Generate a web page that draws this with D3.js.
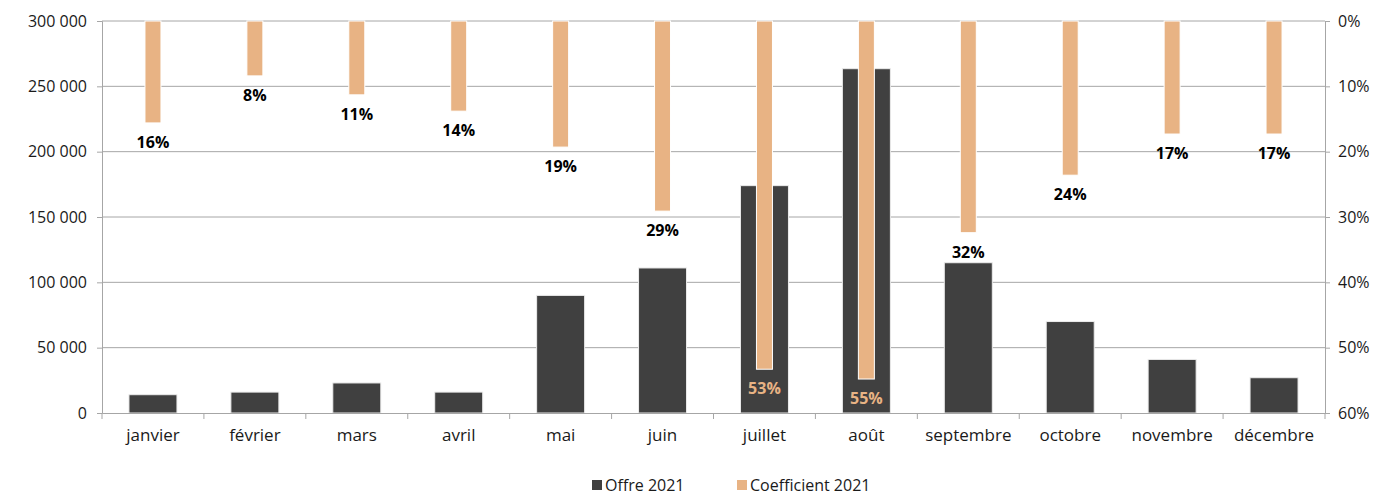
<!DOCTYPE html>
<html>
<head>
<meta charset="utf-8">
<script src="https://cdn.jsdelivr.net/npm/d3@7"></script>
<style>
    body { margin: 0; background: #fff; }
    svg text { font-family: "Open Sans", "DejaVu Sans", sans-serif; }
</style>
</head>
<body>
<div id="chart"></div>
<script>
// chart values
var months = ["janvier", "février", "mars", "avril", "mai", "juin", "juillet", "août", "septembre", "octobre", "novembre", "décembre"];
var offre2021 = [14000, 16000, 23000, 16000, 90000, 111000, 174000, 263500, 115000, 70000, 41000, 27000];
var coef2021 = [0.156, 0.084, 0.113, 0.138, 0.193, 0.291, 0.533, 0.548, 0.324, 0.236, 0.173, 0.173];
var leftTicks = [0, 50000, 100000, 150000, 200000, 250000, 300000];
var rightTicks = [0, 0.1, 0.2, 0.3, 0.4, 0.5, 0.6];

var margin = { top: 21, right: 57, bottom: 82, left: 102 };
var width = 1382 - margin.left - margin.right;
var height = 495 - margin.top - margin.bottom;

var dark = "#404040";
var orange = "#e8b384";
var gridColor = "#a6a6a6";

var svg = d3.select("#chart").append("svg")
    .attr("width", 1382)
    .attr("height", 495)
    .append("g")
    .attr("transform", "translate(" + margin.left + "," + margin.top + ")");

var x = d3.scaleBand().domain(months).range([0, width]);
var step = x.step();
var xDark = d3.scaleBand().domain(months).range([0, width])
    .paddingInner(1 - 48 / step).paddingOuter((1 - 48 / step) / 2);
var xOrange = d3.scaleBand().domain(months).range([0, width])
    .paddingInner(1 - 16 / step).paddingOuter((1 - 16 / step) / 2);

var y = d3.scaleLinear().domain([0, 300000]).range([height, 0]);
var y2 = d3.scaleLinear().domain([0, 0.6]).range([0, height]);

// gridlines
svg.selectAll(".grid")
    .data(leftTicks.filter(function (d) { return d > 0; }))
    .enter().append("line")
    .attr("x1", 0).attr("x2", width)
    .attr("y1", function (d) { return y(d); })
    .attr("y2", function (d) { return y(d); })
    .attr("stroke", gridColor)
    .attr("stroke-width", 1);

// dark bars
svg.selectAll(".offre")
    .data(offre2021)
    .enter().append("rect")
    .attr("x", function (d, i) { return xDark(months[i]); })
    .attr("y", function (d) { return y(d); })
    .attr("width", xDark.bandwidth())
    .attr("height", function (d) { return height - y(d); })
    .attr("fill", dark)
    .attr("stroke", "#ececec")
    .attr("stroke-width", 1);

// orange bars hanging from top
svg.selectAll(".coef")
    .data(coef2021)
    .enter().append("rect")
    .attr("x", function (d, i) { return xOrange(months[i]); })
    .attr("y", 0)
    .attr("width", xOrange.bandwidth())
    .attr("height", function (d) { return y2(d); })
    .attr("fill", orange)
    .attr("stroke", "#ffffff")
    .attr("stroke-width", 1);

// percent labels
svg.selectAll(".lbl")
    .data(coef2021)
    .enter().append("text")
    .attr("x", function (d, i) { return x(months[i]) + step / 2; })
    .attr("y", function (d) { return y2(d) + 25; })
    .attr("text-anchor", "middle")
    .attr("font-size", "16px")
    .attr("font-weight", "bold")
    .attr("fill", function (d, i) {
        return y(offre2021[i]) < y2(d) + 12 ? orange : "#000";
    })
    .text(function (d) { return Math.round(d * 100) + "%"; });

// axes
var axisLeft = svg.append("g")
    .call(d3.axisLeft(y).tickValues(leftTicks).tickSize(5).tickPadding(10)
        .tickFormat(function (d) { return d3.format(",")(d).replace(/,/g, " "); }));
var axisRight = svg.append("g")
    .attr("transform", "translate(" + width + ",0)")
    .call(d3.axisRight(y2).tickValues(rightTicks).tickSize(5).tickPadding(8)
        .tickFormat(d3.format(".0%")));
var axisBottom = svg.append("g")
    .attr("transform", "translate(0," + height + ")")
    .call(d3.axisBottom(x).tickSize(0).tickPadding(16));

[axisLeft, axisRight, axisBottom].forEach(function (a) {
    a.select(".domain").attr("stroke", gridColor);
    a.selectAll(".tick line").attr("stroke", gridColor);
    a.selectAll("text").attr("font-size", "16px").attr("fill", "#1a1a1a");
});
axisBottom.selectAll("text").attr("font-size", "17px");

// month separators on the x axis
svg.selectAll(".sep")
    .data(months.concat(["end"]))
    .enter().append("line")
    .attr("x1", function (d, i) { return i * step; })
    .attr("x2", function (d, i) { return i * step; })
    .attr("y1", height)
    .attr("y2", height + 6)
    .attr("stroke", gridColor);

// legend
var legend = d3.select("svg").append("g");
var items = [{ name: "Offre 2021", color: dark, x: 592 }, { name: "Coefficient 2021", color: orange, x: 737 }];
items.forEach(function (it) {
    legend.append("rect")
        .attr("x", it.x).attr("y", 480)
        .attr("width", 10).attr("height", 10)
        .attr("fill", it.color);
    legend.append("text")
        .attr("x", it.x + 13).attr("y", 485)
        .attr("dominant-baseline", "central")
        .attr("font-size", "16px")
        .attr("fill", "#1a1a1a")
        .text(it.name);
});
</script>
</body>
</html>
